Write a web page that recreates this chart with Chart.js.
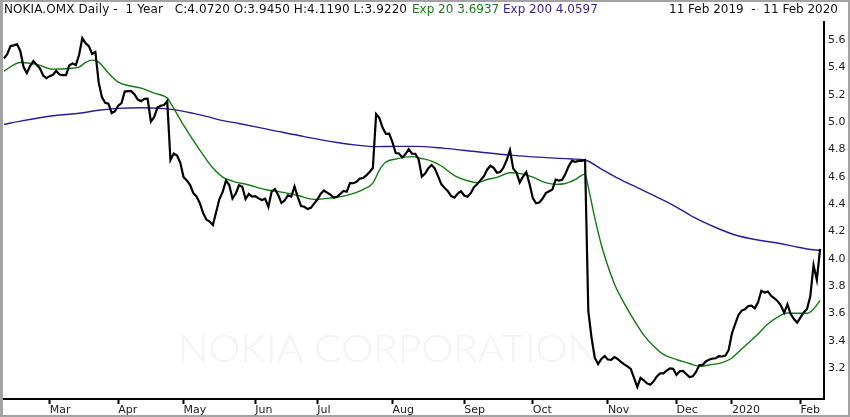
<!DOCTYPE html>
<html>
<head>
<meta charset="utf-8">
<script src="https://cdn.jsdelivr.net/npm/chart.js@4.4.1/dist/chart.umd.min.js"></script>
<style>
    body { margin: 0; background: #fff; }
    #frame { position: relative; width: 850px; height: 417px; overflow: hidden; font-family: "DejaVu Sans", sans-serif; }
    #chart { position: absolute; left: 0; top: 0; }
    #border { position: absolute; left: 0; top: 0; width: 850px; height: 417px; box-sizing: border-box;
              border: 2px solid #a3a3a3; border-left-width: 3px; pointer-events: none; }
    .t { position: absolute; top: 2px; font-size: 12px; line-height: 15px; white-space: pre; color: #111; }
</style>
</head>
<body>
<div id="frame">
    <canvas id="chart" width="850" height="417"></canvas>
    <span class="t" style="left:4px;letter-spacing:0.1px">NOKIA.OMX Daily -  1 Year   C:4.0720 O:3.9450 H:4.1190 L:3.9220</span>
    <span class="t" style="left:412px;color:#1b7a1b">Exp 20 3.6937</span>
    <span class="t" style="left:503px;color:#3a1f8e">Exp 200 4.0597</span>
    <span class="t" style="right:12px">11 Feb 2019  -  11 Feb 2020</span>
    <div id="border"></div>
</div>
<script>
// trading days 11 Feb 2019 - 11 Feb 2020 (Helsinki)
const startDate = "2019-02-11";
const endDate = "2020-02-11";
const holidays = ["2019-04-19", "2019-04-22", "2019-05-01", "2019-06-21", "2019-12-06",
    "2019-12-24", "2019-12-25", "2019-12-26", "2019-12-31", "2020-01-01", "2020-01-06"];

const monthLabels = ["Mar", "Apr", "May", "Jun", "Jul", "Aug", "Sep", "Oct", "Nov", "Dec", "2020", "Feb"];
const yTickValues = [3.2, 3.4, 3.6, 3.8, 4.0, 4.2, 4.4, 4.6, 4.8, 5.0, 5.2, 5.4, 5.6];

// daily close, one per trading day
const closePrices = [
    5.466, 5.497, 5.556, 5.561, 5.570, 5.520, 5.402, 5.358, 5.409, 5.446,
    5.420, 5.393, 5.340, 5.321, 5.336, 5.346, 5.374, 5.348, 5.343, 5.343,
    5.414, 5.429, 5.416, 5.490, 5.614, 5.577, 5.556, 5.499, 5.512, 5.292,
    5.182, 5.140, 5.134, 5.065, 5.080, 5.120, 5.139, 5.223, 5.226, 5.226,
    5.201, 5.164, 5.153, 5.170, 5.171, 5.003, 5.036, 5.106, 5.119, 5.124,
    5.153, 4.722, 4.769, 4.755, 4.703, 4.597, 4.573, 4.540, 4.480, 4.454,
    4.407, 4.334, 4.286, 4.272, 4.246, 4.341, 4.436, 4.488, 4.572, 4.539,
    4.440, 4.477, 4.537, 4.526, 4.436, 4.474, 4.454, 4.457, 4.441, 4.429,
    4.439, 4.378, 4.491, 4.509, 4.466, 4.407, 4.427, 4.463, 4.455, 4.529,
    4.451, 4.385, 4.380, 4.363, 4.372, 4.403, 4.433, 4.473, 4.499, 4.483,
    4.468, 4.447, 4.452, 4.473, 4.495, 4.490, 4.553, 4.552, 4.562, 4.586,
    4.590, 4.610, 4.634, 4.663, 5.058, 5.029, 4.958, 4.913, 4.915, 4.853,
    4.773, 4.770, 4.741, 4.765, 4.801, 4.769, 4.768, 4.729, 4.601, 4.623,
    4.662, 4.685, 4.659, 4.602, 4.544, 4.517, 4.493, 4.458, 4.447, 4.477,
    4.493, 4.462, 4.453, 4.480, 4.524, 4.547, 4.575, 4.603, 4.651, 4.680,
    4.665, 4.629, 4.634, 4.666, 4.722, 4.795, 4.659, 4.630, 4.557, 4.601,
    4.634, 4.546, 4.444, 4.405, 4.411, 4.440, 4.480, 4.493, 4.506, 4.579,
    4.572, 4.577, 4.621, 4.678, 4.716, 4.709, 4.716, 4.716, 4.722, 3.617,
    3.419, 3.273, 3.229, 3.266, 3.288, 3.262, 3.259, 3.280, 3.266, 3.244,
    3.226, 3.212, 3.193, 3.127, 3.061, 3.128, 3.110, 3.087, 3.077, 3.102,
    3.138, 3.160, 3.160, 3.180, 3.197, 3.194, 3.150, 3.176, 3.179, 3.156,
    3.134, 3.139, 3.171, 3.222, 3.222, 3.248, 3.261, 3.269, 3.271, 3.286,
    3.284, 3.291, 3.332, 3.454, 3.522, 3.588, 3.620, 3.629, 3.654, 3.657,
    3.637, 3.681, 3.765, 3.752, 3.759, 3.728, 3.710, 3.689, 3.656, 3.604,
    3.666, 3.595, 3.558, 3.531, 3.570, 3.606, 3.632, 3.725, 3.953, 3.844,
    4.072
];

// Exp 20, read at these trading-day indexes
const ema20Days = [0, 5, 10, 15, 20, 23, 25, 27, 29, 32, 35, 38, 42, 46, 50, 51, 55, 60, 64, 67,
    70, 75, 80, 85, 90, 95, 100, 105, 110, 113, 115, 117, 120, 125, 128, 131, 134, 138, 142, 145,
    148, 151, 155, 159, 162, 165, 169, 172, 175, 178, 179, 181, 183, 185, 187, 190, 193, 196, 199, 202,
    206, 210, 213, 216, 220, 223, 225, 228, 231, 234, 237, 240, 243, 246, 248, 250];
const ema20Values = [5.373, 5.436, 5.422, 5.387, 5.392, 5.402, 5.436, 5.453, 5.438, 5.358,
    5.292, 5.267, 5.248, 5.212, 5.175, 5.140, 4.978, 4.795, 4.663, 4.597,
    4.568, 4.539, 4.506, 4.487, 4.462, 4.434, 4.444, 4.463, 4.506, 4.553,
    4.648, 4.707, 4.729, 4.747, 4.733, 4.714, 4.678, 4.608, 4.570, 4.556,
    4.579, 4.595, 4.629, 4.619, 4.597, 4.564, 4.544, 4.550, 4.579, 4.619,
    4.522, 4.297, 4.100, 3.946, 3.815, 3.673, 3.551, 3.441, 3.361, 3.299,
    3.262, 3.233, 3.211, 3.222, 3.239, 3.273, 3.317, 3.383, 3.449, 3.522,
    3.573, 3.602, 3.600, 3.600, 3.632, 3.694];

// Exp 200
const ema200Days = [0, 5, 11, 17, 23, 29, 35, 42, 48, 53, 58, 62, 66, 72, 82, 92, 102, 108, 114, 120,
    126, 135, 145, 155, 165, 174, 178, 183, 188, 194, 200, 206, 212, 218, 224, 230, 236, 242, 246, 250];
const ema200Values = [4.983, 5.007, 5.031, 5.051, 5.064, 5.086, 5.100, 5.104, 5.100, 5.087,
    5.063, 5.041, 5.016, 4.989, 4.941, 4.893, 4.850, 4.831, 4.820, 4.822,
    4.822, 4.807, 4.782, 4.758, 4.741, 4.729, 4.722, 4.656, 4.590, 4.520,
    4.451, 4.378, 4.294, 4.228, 4.173, 4.140, 4.118, 4.090, 4.071, 4.060];

function tradingDays(from, to, skip) {
    let days = [];
    let d = new Date(from + "T00:00:00Z");
    const last = new Date(to + "T00:00:00Z");
    while (d <= last) {
        const iso = d.toISOString().slice(0, 10);
        const wd = d.getUTCDay();
        if (wd !== 0 && wd !== 6 && !skip.includes(iso)) days.push(iso);
        d.setUTCDate(d.getUTCDate() + 1);
    }
    return days;
}

const dates = tradingDays(startDate, endDate, holidays);

// first trading day of each new month gets a tick
let monthTicks = [];
for (let i = 1; i < dates.length; i++) {
    if (dates[i].slice(5, 7) !== dates[i - 1].slice(5, 7)) monthTicks.push(i);
}

const watermark = {
    id: "watermark",
    beforeDatasetsDraw(chart) {
        const ctx = chart.ctx;
        const text = "NOKIA CORPORATION";
        ctx.save();
        ctx.font = "300 38px Lato";
        ctx.fillStyle = "#f3f3f3";
        const w = ctx.measureText(text).width;
        ctx.translate(178, 362);
        ctx.scale(420 / w, 1);
        ctx.fillText(text, 0, 0);
        ctx.restore();
    }
};

const ctx = document.getElementById("chart").getContext("2d");

new Chart(ctx, {
    type: "line",
    data: {
        datasets: [
            {
                label: "NOKIA.OMX",
                data: closePrices.map((v, i) => ({ x: i, y: v })),
                borderColor: "#000000",
                borderWidth: 2.2,
            },
            {
                label: "Exp 20",
                data: ema20Days.map((d, i) => ({ x: d, y: ema20Values[i] })),
                borderColor: "#137a13",
                borderWidth: 1.4,
                cubicInterpolationMode: "monotone",
            },
            {
                label: "Exp 200",
                data: ema200Days.map((d, i) => ({ x: d, y: ema200Values[i] })),
                borderColor: "#2f1b93",
                borderWidth: 1.4,
                cubicInterpolationMode: "monotone",
            },
        ],
    },
    options: {
        responsive: false,
        animation: false,
        events: [],
        elements: { point: { radius: 0 }, line: { tension: 0 } },
        layout: { padding: { left: 3, top: 22, right: 0, bottom: 0 } },
        plugins: { legend: { display: false }, tooltip: { enabled: false } },
        scales: {
            x: {
                type: "linear",
                min: -0.3,
                max: 251.2,
                afterBuildTicks: (scale) => {
                    scale.ticks = monthTicks.map((i) => ({ value: i }));
                },
                afterFit: (scale) => { scale.height = 18; },
                grid: { drawOnChartArea: false, tickLength: 5, tickColor: "#000", tickWidth: 2 },
                border: { display: true, color: "#000", width: 2 },
                ticks: {
                    autoSkip: false,
                    maxRotation: 0,
                    align: "start",
                    padding: 0,
                    color: "#222",
                    font: { family: "DejaVu Sans", size: 11 },
                    callback: (value) => monthLabels[monthTicks.indexOf(value)],
                },
            },
            y: {
                position: "right",
                min: 2.973,
                max: 5.732,
                afterBuildTicks: (scale) => {
                    scale.ticks = yTickValues.map((v) => ({ value: v }));
                },
                afterFit: (scale) => { scale.width = 26; },
                grid: { display: false, drawTicks: false },
                border: { display: true, color: "#000", width: 2 },
                ticks: {
                    padding: 4,
                    color: "#222",
                    font: { family: "DejaVu Sans", size: 11 },
                    callback: (value) => value.toFixed(1),
                },
            },
        },
    },
    plugins: [watermark],
});
</script>
</body>
</html>
